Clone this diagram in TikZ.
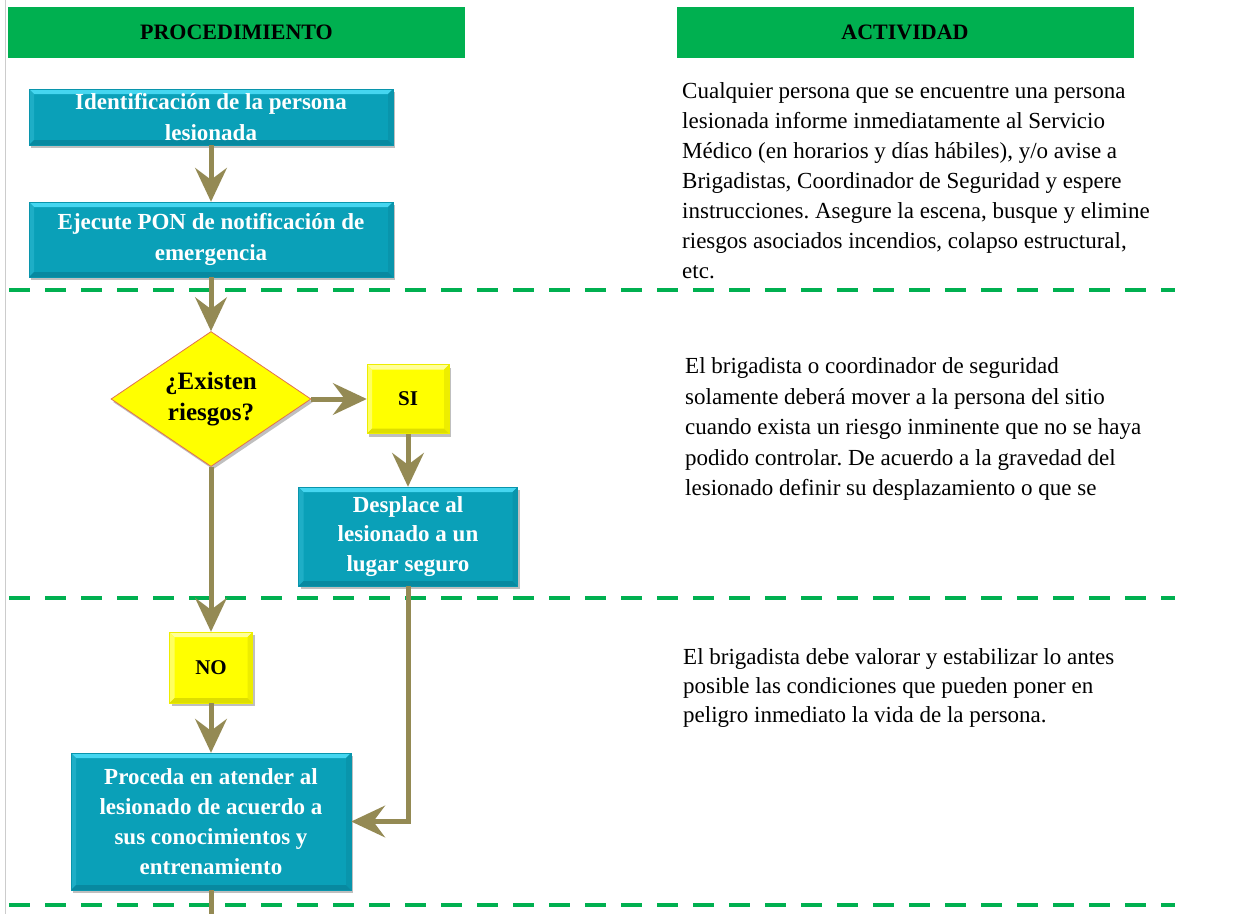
\documentclass[tikz,border=0pt]{standalone}
\usepackage{fontspec}
\setmainfont{Liberation Serif}
\usetikzlibrary{arrows.meta,shapes.geometric,shadows}
\definecolor{hdrgreen}{HTML}{00B050}
\definecolor{arrowc}{HTML}{948A54}
\definecolor{tealmain}{HTML}{0AA0B8}
\definecolor{tealtop}{HTML}{45D6F0}
\definecolor{tealleft}{HTML}{1EAEC6}
\definecolor{tealright}{HTML}{0995AC}
\definecolor{tealbot}{HTML}{0889A0}
\definecolor{yelmain}{HTML}{FFFF00}
\definecolor{yeltop}{HTML}{FFFF9A}
\definecolor{yelleft}{HTML}{FFFF60}
\definecolor{yelright}{HTML}{EDED00}
\definecolor{yelbot}{HTML}{DEDE00}
\definecolor{diaedge}{HTML}{E07050}
\tikzset{
  bevel/.style n args={4}{path picture={
    \fill[#1] (path picture bounding box.north west) -- (path picture bounding box.north east)
      -- ([xshift=-5pt,yshift=-5pt]path picture bounding box.north east)
      -- ([xshift=5pt,yshift=-5pt]path picture bounding box.north west) -- cycle;
    \fill[#2] (path picture bounding box.north west) -- (path picture bounding box.south west)
      -- ([xshift=5pt,yshift=5pt]path picture bounding box.south west)
      -- ([xshift=5pt,yshift=-5pt]path picture bounding box.north west) -- cycle;
    \fill[#3] (path picture bounding box.north east) -- (path picture bounding box.south east)
      -- ([xshift=-5pt,yshift=5pt]path picture bounding box.south east)
      -- ([xshift=-5pt,yshift=-5pt]path picture bounding box.north east) -- cycle;
    \fill[#4] (path picture bounding box.south west) -- (path picture bounding box.south east)
      -- ([xshift=-5pt,yshift=5pt]path picture bounding box.south east)
      -- ([xshift=5pt,yshift=5pt]path picture bounding box.south west) -- cycle;
  }},
  shad/.style={drop shadow={shadow xshift=2pt, shadow yshift=-3pt, opacity=0.25, fill=black}},
  proc/.style={rectangle, fill=tealmain, draw=tealright, line width=0.5pt, text=white,
    font=\fontsize{23}{31}\selectfont\bfseries, align=center, inner sep=0pt, shad,
    bevel={tealtop}{tealleft}{tealright}{tealbot}},
  ans/.style={rectangle, fill=yelmain, draw=yelright, line width=0.5pt, text=black,
    font=\fontsize{21}{25}\selectfont\bfseries, align=center, inner sep=0pt, shad,
    bevel={yeltop}{yelleft}{yelright}{yelbot}},
  decision/.style={diamond, fill=yelmain, draw=diaedge, line width=0.8pt, aspect=1.48,
    minimum width=200pt, minimum height=135pt, inner sep=0pt, align=center,
    font=\fontsize{25}{31}\selectfont\bfseries, shad},
  hdr/.style={rectangle, fill=hdrgreen, minimum width=457pt, minimum height=51pt,
    inner sep=0pt, font=\fontsize{22}{26}\selectfont\bfseries},
  arr/.style={draw=arrowc, line width=5pt, arrows={-Stealth[length=34pt,width=32pt,inset=12pt,line width=2pt]}},
  conn/.style={draw=arrowc, line width=5pt},
  sepline/.style={draw=hdrgreen, line width=4.5pt, dash pattern=on 21pt off 15pt},
  desc/.style={anchor=north west, inner sep=0pt, align=left, font=\fontsize{23}{30}\selectfont},
}
\begin{document}
\frenchspacing
\begin{tikzpicture}[x=1pt,y=-1pt]
\useasboundingbox (0,0) rectangle (1240,914);
\fill[white] (0,0) rectangle (1240,914);
\draw[black!20, line width=1.5pt] (5.5,0) -- (5.5,914);

% headers
\node[hdr] (h1) at (236.5,32.5) {PROCEDIMIENTO};
\node[hdr] (h2) at (905,32.5) {ACTIVIDAD};

% separators
\coordinate (s1a) at (9,290);  \coordinate (s1b) at (1175,290);
\coordinate (s2a) at (9,598);  \coordinate (s2b) at (1175,598);
\coordinate (s3a) at (9,905);  \coordinate (s3b) at (1175,905);
\draw[sepline] (s1a) -- (s1b);
\draw[sepline] (s2a) -- (s2b);
\draw[sepline] (s3a) -- (s3b);

% flow nodes
\node[proc, minimum width=364pt, minimum height=56pt] (b1) at (211,117)
  {Identificación de la persona\\lesionada};
\node[proc, minimum width=364pt, minimum height=75pt] (b2) at (211,239.5)
  {Ejecute PON de notificación de\\emergencia};
\node[decision] (dia) at (211,399) {¿Existen\\riesgos?};
\node[ans, minimum width=82pt, minimum height=69pt] (si) at (408,399) {SI};
\node[proc, minimum width=219pt, minimum height=99pt, font=\fontsize{23}{29.5}\selectfont\bfseries] (des) at (408,536.5)
  {Desplace al\\lesionado a un\\lugar seguro};
\node[ans, minimum width=83pt, minimum height=71pt] (no) at (211,667.5) {NO};
\node[proc, minimum width=280pt, minimum height=137pt, font=\fontsize{23}{30}\selectfont\bfseries] (pro) at (211,821.5)
  {Proceda en atender al\\lesionado de acuerdo a\\sus conocimientos y\\entrenamiento};
\coordinate (bot) at (211,914);

% connectors
\draw[arr] (b1) -- (b2);
\draw[arr] (b2) -- (dia);
\draw[arr] (dia) -- (si);
\draw[arr] (si) -- (des);
\draw[arr] (dia) -- (no);
\draw[arr] (no) -- (pro);
\draw[arr] (des.south) |- (pro.east);
\draw[conn] (pro.south) -- (bot);

% activity texts
\node[desc] (t1) at (682,77) {\strut Cualquier persona que se encuentre una persona\\
lesionada informe inmediatamente al Servicio\\
Médico (en horarios y días hábiles), y/o avise a\\
Brigadistas, Coordinador de Seguridad y espere\\
instrucciones. Asegure la escena, busque y elimine\\
riesgos asociados incendios, colapso estructural,\\
etc.};
\node[desc, font=\fontsize{23}{30.5}\selectfont] (t2) at (685,352) {\strut El brigadista o coordinador de seguridad\\
solamente deberá mover a la persona del sitio\\
cuando exista un riesgo inminente que no se haya\\
podido controlar. De acuerdo a la gravedad del\\
lesionado definir su desplazamiento o que se};
\node[desc, font=\fontsize{23}{29}\selectfont] (t3) at (683,644) {\strut El brigadista debe valorar y estabilizar lo antes\\
posible las condiciones que pueden poner en\\
peligro inmediato la vida de la persona.};
\end{tikzpicture}
\end{document}
